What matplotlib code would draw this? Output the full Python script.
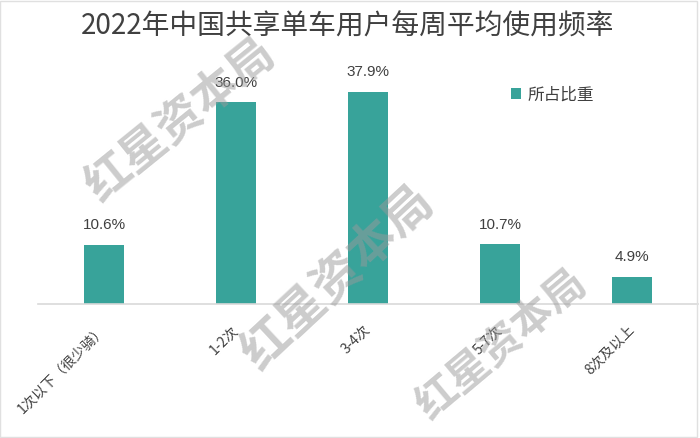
import matplotlib
matplotlib.use("Agg")
import matplotlib.pyplot as plt
from matplotlib.patches import Rectangle

plt.rcParams['font.family'] = ['Noto Sans CJK SC', 'DejaVu Sans']

title = "2022年中国共享单车用户每周平均使用频率"
categories = ["1次以下（很少骑）", "1-2次", "3-4次", "5-7次", "8次及以上"]
values = [10.6, 36.0, 37.9, 10.7, 4.9]
series_name = "所占比重"
watermark = "红星资本局"

W, H = 700, 438
fig = plt.figure(figsize=(W / 100, H / 100), dpi=100)
fig.patch.set_facecolor("white")

# axes: x from 38 to 698 px, baseline at y=304, top at y=60
left, right, bottom, top = 38, 698, 304, 60
ax = fig.add_axes([left / W, 1 - bottom / H, (right - left) / W, (bottom - top) / H])
px_per_unit = 5.6
ax.set_ylim(0, (bottom - top) / px_per_unit)
ax.set_xlim(-0.5, len(categories) - 0.5)

color = "#38A39A"
x = range(len(categories))
ax.bar(x, values, width=0.31, color=color, label=series_name, zorder=2)
for xi, v in zip(x, values):
    ax.text(xi, v + 2.2, f"{v:.1f}%", ha="center", va="bottom", fontsize=11,
            color="#404040", family=["Liberation Sans"])

for s in ["top", "right", "left"]:
    ax.spines[s].set_visible(False)
ax.spines["bottom"].set_color("#d9d9d9")
ax.spines["bottom"].set_linewidth(1.2)
ax.set_yticks([])
ax.set_xticks(list(x))
ax.set_xticklabels(categories, rotation=45, ha="right", va="center",
                   rotation_mode="anchor", fontsize=10, color="#404040")
ax.tick_params(axis="x", length=0, pad=17)

fig.text(348 / W, 1 - 27 / H, title, ha="center", va="center", fontsize=20, color="#404040")

ax.legend(loc="center left",
          bbox_to_anchor=((503 - left) / (right - left), (bottom - 95) / (bottom - top)),
          frameon=False, fontsize=12, handlelength=0.6, handleheight=0.6,
          handletextpad=0.4, borderpad=0, labelcolor="#404040")

# frame border
fig.add_artist(Rectangle((0, 0.002), 0.996, 0.996, transform=fig.transFigure,
                         fill=False, edgecolor="#e0e0e0", linewidth=1))

# watermarks
for (wx, wy, fs, rot) in [(180, 120, 33, 39), (338, 278, 35, 43), (502, 345, 30, 40)]:
    fig.text(wx / W, 1 - wy / H, watermark, ha="center", va="center", rotation=rot,
             fontsize=fs, color="#9a9a9a", alpha=0.5, fontweight="bold", zorder=10)

fig.savefig("out.png", dpi=100)
